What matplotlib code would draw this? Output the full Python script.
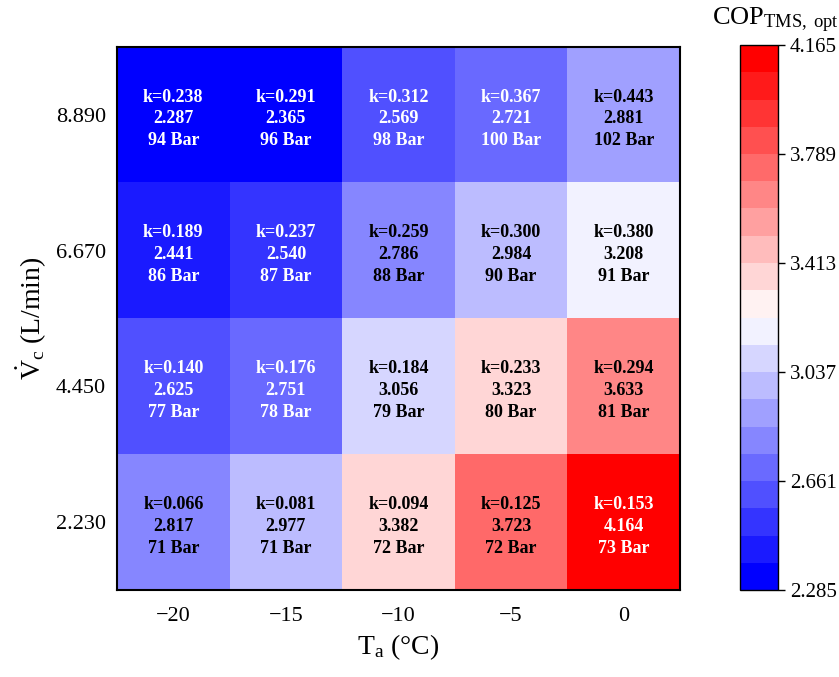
import numpy as np
import matplotlib
matplotlib.use("Agg")
import matplotlib.pyplot as plt
from matplotlib.colors import ListedColormap, BoundaryNorm

plt.rcParams['font.family'] = ['Liberation Serif', 'DejaVu Serif']
plt.rcParams['mathtext.fontset'] = 'custom'
plt.rcParams['mathtext.rm'] = 'Liberation Serif'
plt.rcParams['mathtext.it'] = 'Liberation Serif:italic'
plt.rcParams['mathtext.bf'] = 'Liberation Serif:bold'

temps = [-20, -15, -10, -5, 0]
flows = ["8.890", "6.670", "4.450", "2.230"]  # top to bottom

cop = np.array([
    [2.287, 2.365, 2.569, 2.721, 2.881],
    [2.441, 2.540, 2.786, 2.984, 3.208],
    [2.625, 2.751, 3.056, 3.323, 3.633],
    [2.817, 2.977, 3.382, 3.723, 4.164],
])
k_vals = [
    ["0.238", "0.291", "0.312", "0.367", "0.443"],
    ["0.189", "0.237", "0.259", "0.300", "0.380"],
    ["0.140", "0.176", "0.184", "0.233", "0.294"],
    ["0.066", "0.081", "0.094", "0.125", "0.153"],
]
pressure = [
    [94, 96, 98, 100, 102],
    [86, 87, 88, 90, 91],
    [77, 78, 79, 80, 81],
    [71, 71, 72, 72, 73],
]
text_white = [
    [True, True, True, True, False],
    [True, True, False, False, False],
    [True, True, False, False, False],
    [False, False, False, False, True],
]

vmin, vmax, nlev = 2.285, 4.165, 20
bounds = np.linspace(vmin, vmax, nlev + 1)
base = plt.get_cmap('bwr')
cmap = ListedColormap(base(np.linspace(0, 1, nlev)))
norm = BoundaryNorm(bounds, cmap.N)

fig = plt.figure(figsize=(8.39, 6.77), dpi=100)
W, H = 839, 677
ax = fig.add_axes([117 / W, 1 - 590 / H, (680 - 117) / W, (590 - 47) / H])
im = ax.imshow(cop, cmap=cmap, norm=norm, aspect='auto', interpolation='nearest')

for i in range(cop.shape[0]):
    for j in range(cop.shape[1]):
        c = 'white' if text_white[i][j] else 'black'
        txt = f"k={k_vals[i][j]}\n{cop[i, j]:.3f}\n{pressure[i][j]} Bar"
        ax.text(j, i + 0.03, txt, ha='center', va='center', color=c, fontsize=13,
                fontweight='bold', linespacing=1.38)

ax.set_xticks(range(len(temps)))
ax.set_xticklabels([f"\u2212{abs(t)}" if t < 0 else str(t) for t in temps])
ax.set_yticks(range(len(flows)))
ax.set_yticklabels(flows)
ax.tick_params(axis='both', labelsize=16, length=0)
ax.tick_params(axis='y', pad=8)
ax.tick_params(axis='x', pad=12)
for s in ax.spines.values():
    s.set_linewidth(1.5)
ax.set_xlabel(r"T$_{\mathrm{a}}$ ($\degree$C)", fontsize=20, labelpad=5)
ax.set_ylabel(r"$\dot{\mathrm{V}}_{\mathrm{c}}$ (L/min)", fontsize=20, labelpad=5)

cax = fig.add_axes([740 / W, 1 - 590 / H, (778 - 740) / W, (590 - 45) / H])
cb = fig.colorbar(im, cax=cax, boundaries=bounds)
ticks = np.linspace(vmin, vmax, 6)
cb.set_ticks(ticks)
cb.set_ticklabels([f"{t:.3f}" for t in ticks])
cb.ax.minorticks_off()
cb.ax.tick_params(labelsize=15, length=5, width=1)
cb.outline.set_linewidth(1)
fig.text(775 / W, 1 - 20 / H, r"COP$_{\mathrm{TMS,\ opt}}$", ha='center', va='center', fontsize=19)

fig.savefig("out.png", dpi=100)
